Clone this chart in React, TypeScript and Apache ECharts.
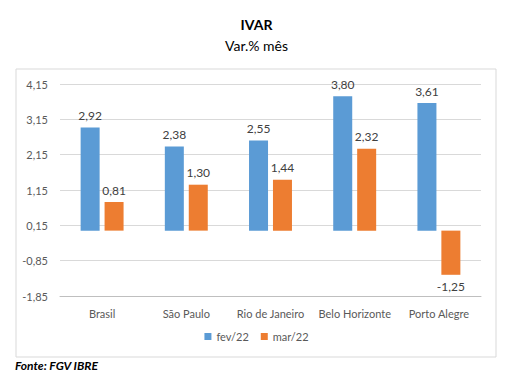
import React, { useEffect, useRef } from "react";
import * as echarts from "echarts";

const categories = ["Brasil", "São Paulo", "Rio de Janeiro", "Belo Horizonte", "Porto Alegre"];
const fev22 = [2.92, 2.38, 2.55, 3.8, 3.61];
const mar22 = [0.81, 1.3, 1.44, 2.32, -1.25];
const seriesNames = ["fev/22", "mar/22"];
const colors = ["#5B9BD5", "#ED7D31"];

const FONT = "Lato, 'Open Sans', sans-serif";
const fmt = (v: number) => v.toFixed(2).replace(".", ",");

export default function App() {
  const ref = useRef<HTMLDivElement>(null);
  useEffect(() => {
    document.body.style.margin = "0";
    const chart = echarts.init(ref.current!, undefined, { renderer: "svg" });
    const mkData = (arr: number[]) =>
      arr.map((v) => ({
        value: v,
        label: { position: v < 0 ? "bottom" : "top" },
      }));
    chart.setOption({
      animation: false,
      textStyle: { fontFamily: FONT },
      title: [
        {
          text: "IVAR",
          left: "center",
          top: 12,
          textStyle: { fontFamily: FONT, fontSize: 14, fontWeight: "bold", color: "#000" },
        },
        {
          text: "Var.% mês",
          left: "center",
          top: 33,
          textStyle: { fontFamily: FONT, fontSize: 14, fontWeight: "normal", color: "#000" },
        },
      ],
      graphic: [
        {
          type: "rect",
          shape: { x: 16, y: 69, width: 480, height: 288 },
          style: { fill: "none", stroke: "#d9d9d9", lineWidth: 1 },
          silent: true,
        },
        {
          type: "text",
          left: 15,
          top: 359,
          style: {
            text: "Fonte: FGV IBRE",
            fontFamily: FONT,
            fontSize: 12,
            fontWeight: "bold",
            fontStyle: "italic",
            fill: "#000",
          },
        },
      ],
      legend: {
        data: seriesNames,
        bottom: 34,
        left: "center",
        icon: "rect",
        itemWidth: 7,
        itemHeight: 7,
        itemGap: 12,
        textStyle: { fontFamily: FONT, fontSize: 11, color: "#595959" },
      },
      grid: { left: 60, right: 32, top: 84, bottom: 85, containLabel: false },
      xAxis: [
        {
          type: "category",
          data: categories,
          axisLine: { show: false },
          axisTick: { show: false },
          axisLabel: { color: "#595959", fontSize: 11, fontFamily: FONT, margin: 12, interval: 0 },
        },
        {
          type: "category",
          data: categories,
          position: "bottom",
          axisLine: { show: true, onZero: true, lineStyle: { color: "#bfbfbf", width: 1 } },
          axisTick: { show: false },
          axisLabel: { show: false },
        },
      ],
      yAxis: {
        type: "value",
        min: -1.85,
        max: 4.15,
        interval: 1,
        axisLine: { show: false },
        axisTick: { show: false },
        splitLine: { lineStyle: { color: "#d9d9d9", width: 1 } },
        axisLabel: {
          color: "#595959",
          fontSize: 11,
          fontFamily: FONT,
          margin: 12,
          formatter: (v: number) => fmt(v),
        },
      },
      series: [fev22, mar22].map((arr, i) => ({
        name: seriesNames[i],
        type: "bar",
        xAxisIndex: 0,
        data: mkData(arr),
        barWidth: 19,
        barGap: "26%",
        itemStyle: { color: colors[i] },
        label: {
          show: true,
          color: "#404040",
          fontSize: 12,
          fontFamily: FONT,
          distance: 6,
          formatter: (p: any) => fmt(p.value),
        },
      })),
    });
    return () => chart.dispose();
  }, []);
  return <div ref={ref} style={{ width: 513, height: 381 }} />;
}
